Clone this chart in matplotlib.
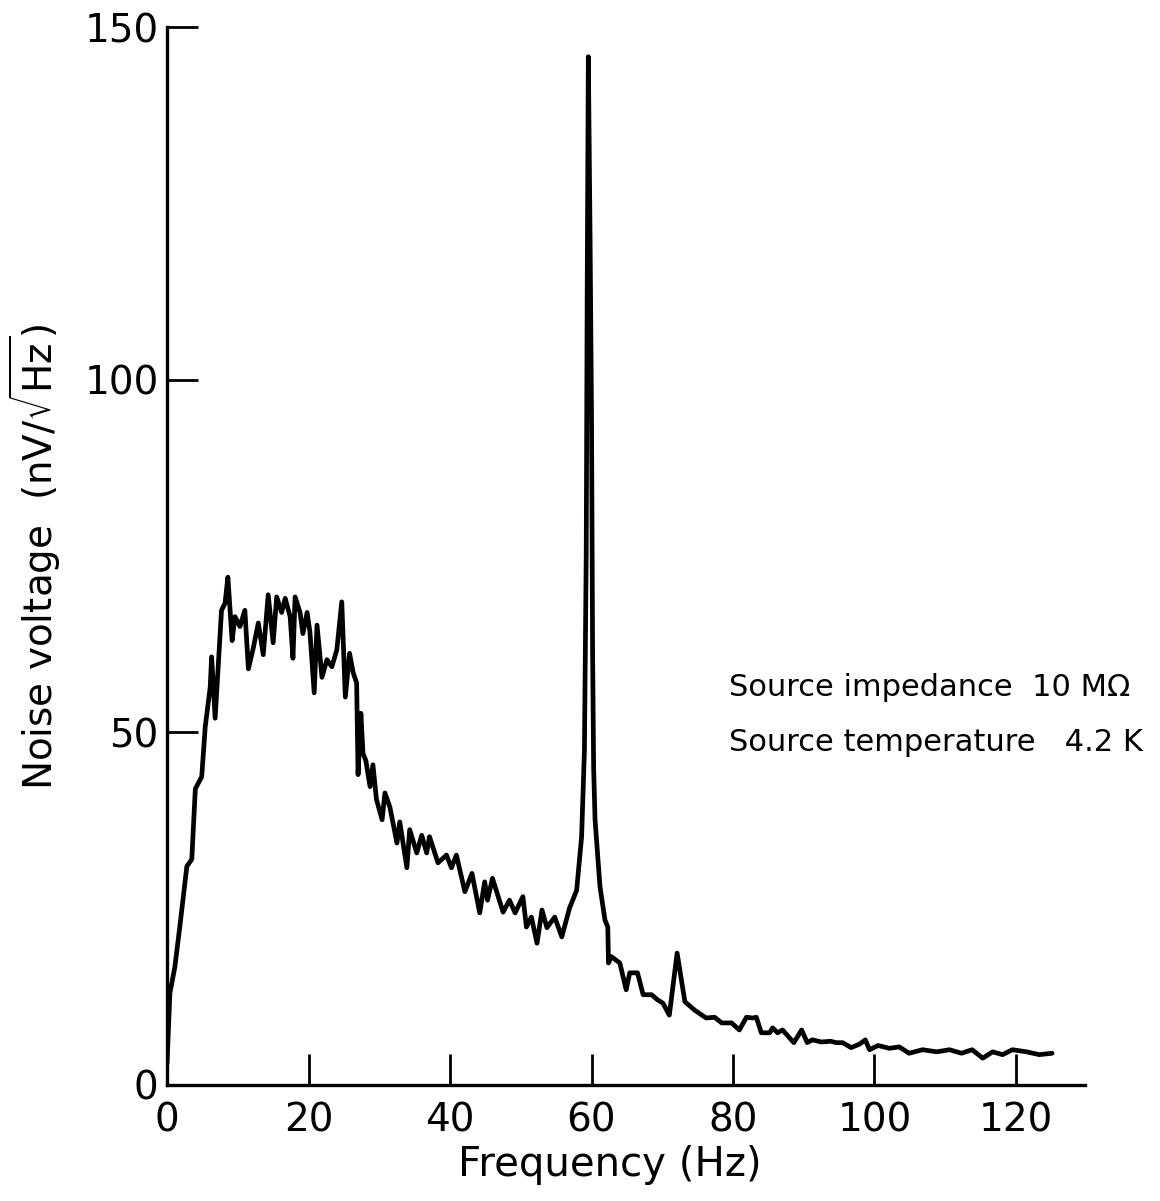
import matplotlib
matplotlib.use("Agg")
import matplotlib.pyplot as plt

plt.rcParams['font.family'] = ['DejaVu Sans']
plt.rcParams['mathtext.fontset'] = 'dejavusans'

freq = [0, 0.4, 1.1, 1.8, 2.8, 3.5, 4.0, 4.9, 5.4, 6.1, 6.3, 6.8, 7.2, 7.7, 8.2,
        8.6, 9.2, 9.6, 10.3, 11.0, 11.5, 12.2, 12.9, 13.6, 14.3, 15.0, 15.5, 16.2,
        16.7, 17.4, 17.8, 18.1, 18.8, 19.2, 19.8, 20.2, 20.8, 21.2, 21.9, 22.6,
        23.3, 24.0, 24.7, 25.2, 25.8, 26.3, 26.8, 27.0, 27.4, 27.7, 28.1, 28.7,
        29.1, 29.6, 30.4, 30.8, 31.5, 32.5, 32.9, 33.9, 34.3, 35.3, 36.0, 36.7,
        37.1, 38.3, 39.5, 40.2, 40.9, 42.1, 43.1, 44.2, 44.9, 45.3, 46.0, 47.5,
        48.4, 49.2, 50.3, 50.8, 51.5, 52.3, 53.0, 53.7, 54.8, 55.8, 56.9, 57.9,
        58.6, 59.0, 59.25, 59.4, 59.55, 59.8, 60.0, 60.15, 60.3, 60.5, 61.2, 61.9,
        62.3, 62.4, 62.8, 64.0, 64.9, 65.4, 66.5, 67.3, 68.5, 69.3, 70.1, 71.0,
        72.1, 73.2, 74.6, 76.2, 77.4, 78.4, 79.8, 80.9, 81.9, 82.8, 83.3, 84.0,
        85.2, 85.6, 86.3, 87.0, 88.6, 89.7, 90.5, 91.2, 92.5, 93.8, 94.6, 95.5,
        96.7, 97.9, 98.7, 99.3, 100.5, 102.1, 103.5, 104.9, 106.8, 108.8, 110.6,
        112.3, 113.8, 115.3, 116.7, 118.1, 119.5, 121.5, 123.3, 125.1]

noise = [3.0, 13.0, 16.7, 22.4, 31.0, 32.0, 42.0, 43.7, 50.8, 56.4, 60.7, 52.0,
         58.8, 67.3, 68.3, 72.0, 63.0, 66.4, 65.0, 67.3, 59.0, 62.0, 65.5, 61.0,
         69.5, 62.7, 69.2, 67.0, 69.0, 66.4, 60.5, 69.2, 67.0, 64.0, 67.0, 64.2,
         55.6, 65.2, 57.8, 60.3, 59.3, 61.7, 68.5, 55.0, 61.2, 58.5, 57.0, 44.0,
         52.7, 47.0, 46.0, 42.3, 45.4, 40.5, 37.6, 41.4, 39.4, 34.3, 37.3, 30.8,
         36.2, 32.9, 35.4, 32.9, 35.2, 31.5, 32.6, 30.8, 32.6, 27.4, 30.0, 24.4,
         28.8, 26.2, 29.3, 24.5, 26.2, 24.4, 26.7, 22.4, 23.8, 20.1, 24.8, 22.3,
         23.8, 21.0, 25.1, 27.6, 35.2, 47.5, 75.0, 115.0, 145.8, 120.0, 95.0, 62.0,
         45.0, 37.6, 28.1, 23.4, 22.4, 17.3, 18.2, 17.3, 13.5, 15.9, 15.9, 12.8,
         12.8, 12.1, 11.6, 9.9, 18.7, 11.8, 10.6, 9.5, 9.6, 8.8, 8.8, 7.8, 9.6,
         9.5, 9.6, 7.4, 7.4, 8.1, 7.4, 7.8, 6.0, 7.8, 6.0, 6.4, 6.1, 6.2, 6.0,
         6.0, 5.3, 5.8, 6.4, 5.0, 5.6, 5.2, 5.4, 4.5, 5.0, 4.7, 5.0, 4.5, 5.0,
         3.8, 4.7, 4.3, 5.0, 4.7, 4.3, 4.5]

xticks = [0, 20, 40, 60, 80, 100, 120]
yticks = [0, 50, 100, 150]

fig = plt.figure(figsize=(11.6, 12.01), dpi=100)
ax = fig.add_axes([0.144, 0.0966, 0.791, 0.8809])

ax.plot(freq, noise, color='black', lw=3.4, solid_joinstyle='round',
        solid_capstyle='round')

ax.set_xlim(0, 129.7)
ax.set_ylim(0, 150)
ax.set_xticks(xticks)
ax.set_yticks(yticks)
for s in ['top', 'right']:
    ax.spines[s].set_visible(False)
for s in ['left', 'bottom']:
    ax.spines[s].set_linewidth(2.4)
ax.tick_params(direction='in', length=22, width=2.0, labelsize=28)
ax.tick_params(axis='y', pad=6)
ax.tick_params(axis='x', pad=12)

ax.set_xlabel('Frequency (Hz)', fontsize=29)
ax.xaxis.set_label_coords(0.4826, -0.057)
ax.set_ylabel(r'Noise voltage  (nV/$\sqrt{\mathrm{Hz}}$)', fontsize=28)
ax.yaxis.set_label_coords(-0.113, 0.499)

ax.text(79.5, 56.3, 'Source impedance  10 M\u03a9', fontsize=22, va='center', ha='left')
ax.text(79.5, 48.5, 'Source temperature   4.2 K', fontsize=22, va='center', ha='left')

fig.savefig('out.png', dpi=100)
